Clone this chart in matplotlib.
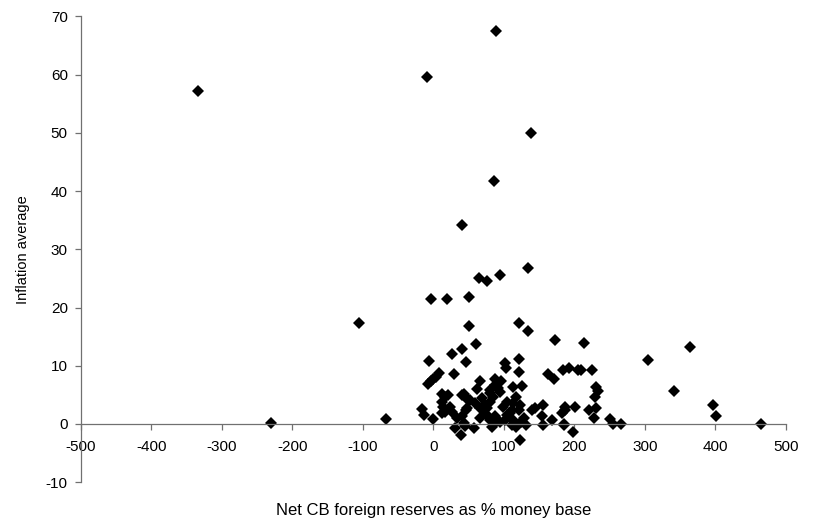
import matplotlib
matplotlib.use('Agg')
from matplotlib import pyplot as plt

plt.rcParams['font.family'] = ['Liberation Sans', 'DejaVu Sans']
plt.rcParams['axes.unicode_minus'] = False

# net CB foreign reserves as % of money base
reserves = [-334, -230, -105, -67, -9, 89, 138, 86, 40, 65, 76, 94, 134, -4, 20, 50,
            50, 121, 135, 173, 60, 40, 26, 46, -6, 122, 102, 103, 122, 30, 8, 4,
            -1, -8, -4, 66, 62, 88, 96, 80, 92, 113, 126, 118, 163, 171, 184, 192,
            206, 214, 209, 225, 231, 234, 229, 221, 231, 228, 12, 17, 12, 24, 12, 14,
            43, 52, 48, 69, 76, 66, 85, 80, 104, 99, 111, 113, 121, -16, -13, 0,
            33, 40, 31, 45, 39, 58, 83, 88, 95, 66, 76, 104, 113, 118, 132, 123,
            128, 140, 144, 156, 154, 168, 155, 185, 198, 182, 187, 201, 185, 251, 255, 267,
            304, 364, 341, 397, 401, 465, 21, 17, 26, 40, 47, 59, 47, 43, 71, 73,
            88, 81, 95, 123, 109, 88, 81, 102, 111, 125, 187]
# average inflation
inflation = [57.2, 0.1, 17.4, 0.9, 59.6, 67.4, 49.9, 41.7, 34.2, 25.1, 24.6, 25.6, 26.8, 21.5, 21.4, 21.8,
             16.9, 17.3, 15.9, 14.5, 13.8, 12.8, 12.0, 10.7, 10.8, 11.2, 10.4, 9.6, 8.9, 8.6, 8.7, 8.0,
             7.7, 6.8, 7.3, 7.3, 6.0, 7.7, 7.4, 5.8, 6.1, 6.3, 6.6, 4.7, 8.6, 7.7, 9.2, 9.6,
             9.2, 13.9, 9.3, 9.3, 6.4, 5.7, 4.7, 2.4, 2.7, 1.1, 5.1, 4.7, 3.8, 3.0, 1.8, 3.0,
             5.1, 4.1, 2.7, 4.5, 2.7, 2.7, 4.7, 3.8, 3.8, 3.0, 2.4, 3.6, 2.4, 2.6, 1.5, 0.9,
             1.0, 1.3, -0.7, -0.3, -1.9, -0.7, -0.5, 0.1, 0.4, 1.0, 1.5, 1.5, 0.7, -0.5, -0.2, -2.7,
             1.0, 2.4, 2.7, 3.3, 1.3, 0.7, -0.2, -0.2, -1.4, 1.8, 3.0, 3.0, 0.0, 0.8, 0.0, 0.0,
             10.9, 13.3, 5.7, 3.3, 1.3, 0.0, 5.0, 2.1, 2.1, 5.0, 4.4, 3.6, 2.4, 0.1, 2.4, 3.3,
             6.7, 5.3, 5.5, 3.3, 1.8, 1.3, 0.7, 0.7, -0.2, 0.4, 2.4]

xticks = [-500, -400, -300, -200, -100, 0, 100, 200, 300, 400, 500]
yticks = [-10, 0, 10, 20, 30, 40, 50, 60, 70]

fig = plt.figure(figsize=(8.15, 5.27), dpi=100)
ax = fig.add_axes([0.0994, 0.085, 0.8646, 0.884])

ax.plot(reserves, inflation, 'D', color='black', markersize=5.8, markeredgewidth=0)

ax.set_xlim(-500, 500)
ax.set_ylim(-10, 70)
ax.set_xticks(xticks)
ax.set_yticks(yticks)

ax.spines['top'].set_visible(False)
ax.spines['right'].set_visible(False)
ax.spines['bottom'].set_position(('data', 0))
for s in ['left', 'bottom']:
    ax.spines[s].set_color('#707070')
    ax.spines[s].set_linewidth(0.9)
ax.tick_params(axis='both', color='#707070', length=4.5, width=0.9, labelsize=11)
ax.tick_params(axis='x', pad=7)
ax.tick_params(axis='y', pad=5)

ax.set_xlabel('Net CB foreign reserves as % money base', fontsize=12)
ax.set_ylabel('Inflation average', fontsize=10.5)
ax.xaxis.set_label_coords(0.5, -0.045)
ax.yaxis.set_label_coords(-0.072, 0.5)

fig.savefig('out.png', dpi=100)
